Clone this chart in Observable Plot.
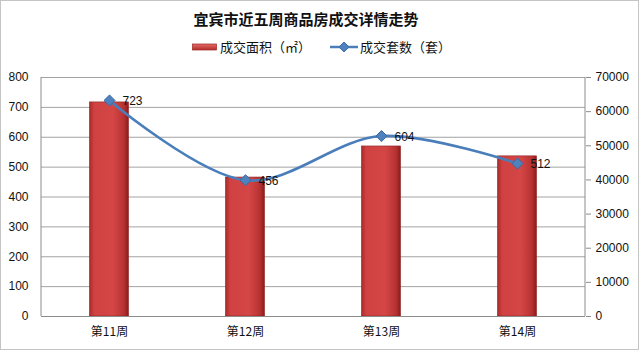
<!DOCTYPE html>
<html><head><meta charset="utf-8">
<script src="https://cdn.jsdelivr.net/npm/d3@7"></script>
<script src="https://cdn.jsdelivr.net/npm/@observablehq/plot@0.6"></script>
<style>
body{margin:0;background:#fff;}
#wrap{position:relative;width:640px;height:351px;overflow:hidden;background:#fff;font-family:"Liberation Sans","Noto Sans CJK SC",sans-serif;}
#border{position:absolute;left:0;top:0;width:637px;height:348px;border:1px solid #c4c4c4;pointer-events:none;}
#title{position:absolute;top:9px;left:0;width:612px;text-align:center;font:bold 15px/20px "Noto Sans CJK SC",sans-serif;color:#111;}
#legend{position:absolute;top:39px;left:0;width:640px;height:16px;font:13px/16px "Noto Sans CJK SC",sans-serif;color:#111;}
.li{position:absolute;top:0;display:flex;align-items:center;height:16px;}
#chart{position:absolute;top:62px;left:0;}
</style></head>
<body><div id="wrap"><div id="title"></div><div id="legend"></div><div id="chart"></div><div id="border"></div></div>
<script>
const titleText = "宜宾市近五周商品房成交详情走势";
const seriesNames = ["成交面积（㎡）", "成交套数（套）"];
const weeks = ["第11周", "第12周", "第13周", "第14周"];
const area = [62700, 40700, 49800, 46900];   // 成交面积 (right axis)
const units = [723, 456, 604, 512];          // 成交套数 (left axis)
const leftTicks = [0, 100, 200, 300, 400, 500, 600, 700, 800];
const rightTicks = [0, 10000, 20000, 30000, 40000, 50000, 60000, 70000];
const leftMax = 800, rightMax = 70000;
const k = leftMax / rightMax;

document.getElementById("title").textContent = titleText;
const legend = document.getElementById("legend");
legend.innerHTML =
  `<div class="li" style="left:192px"><svg width="26" height="10" style="margin-right:2px"><rect x="0.5" y="2" width="24" height="6" fill="url(#lg)" stroke="#9a2626" stroke-width="0.7"/><defs><linearGradient id="lg" x1="0" y1="0" x2="0" y2="1"><stop offset="0" stop-color="#e46a66"/><stop offset="1" stop-color="#b42e2c"/></linearGradient></defs></svg><span>${seriesNames[0]}</span></div>` +
  `<div class="li" style="left:330px"><svg width="29" height="12" style="margin-right:1px"><line x1="0" y1="6" x2="28" y2="6" stroke="#4a7ebb" stroke-width="2.5"/><path d="M14,1 L19,6 L14,11 L9,6Z" fill="#4f81bd" stroke="#3c6aa4"/></svg><span>${seriesNames[1]}</span></div>`;

const bars = weeks.map((w, i) => ({week: w, v: area[i] * k}));
const pts = weeks.map((w, i) => ({week: w, v: units[i]}));

const plot = Plot.plot({
  width: 640, height: 289,
  marginTop: 15, marginBottom: 35, marginLeft: 41, marginRight: 55,
  x: {domain: weeks, padding: 0, axis: null, label: null},
  y: {domain: [0, leftMax], axis: null, label: null},
  style: {fontFamily: '"Liberation Sans","Noto Sans CJK SC",sans-serif', fontSize: "12px", color: "#111", background: "transparent"},
  marks: [
    Plot.ruleY(leftTicks.filter(d => d > 0), {stroke: "#a3a3a3", strokeWidth: 1}),
    Plot.barY(bars, {x: "week", y: "v", fill: "url(#barGrad)", stroke: "#8f2222", strokeWidth: 0.6, insetLeft: 48.5, insetRight: 48.5}),
    Plot.ruleY([0], {stroke: "#8c8c8c", strokeWidth: 1}),
    Plot.axisY(leftTicks, {anchor: "left", tickSize: 0, tickPadding: 13, fontSize: 12, label: null}),
    Plot.axisY(rightTicks.map(d => d * k), {anchor: "right", tickSize: 5, tickPadding: 5, stroke: "#8c8c8c", tickFormat: d => String(Math.round(d / k)), fontSize: 12, label: null}),
    Plot.axisX(weeks, {tickSize: 0, tickPadding: 11, fontSize: 12, fontFamily: '"Noto Sans CJK SC",sans-serif', label: null}),
    Plot.line(pts, {x: "week", y: "v", stroke: "#4a7ebb", strokeWidth: 2.6, curve: "catmull-rom"}),
    Plot.dot(pts, {x: "week", y: "v", symbol: "diamond2", r: 5, fill: "#4f81bd", stroke: "#3a68a2", strokeWidth: 1}),
    Plot.text(pts, {x: "week", y: "v", text: d => String(d.v), dx: 13, dy: 1, textAnchor: "start", fill: "#111", fontSize: 12})
  ]
});

const svg = d3.select(plot);
const defs = svg.insert("defs", ":first-child");
const g = defs.append("linearGradient").attr("id", "barGrad").attr("x1", 0).attr("y1", 0).attr("x2", 1).attr("y2", 0);
[[0, "#a82a2a"], [0.12, "#d04242"], [0.6, "#d44646"], [0.88, "#b83232"], [1, "#8a1c1c"]]
  .forEach(([o, c]) => g.append("stop").attr("offset", o).attr("stop-color", c));

const xr = plot.scale("x").range, yr = plot.scale("y").range;
[xr[0], xr[1]].forEach(xv => {
  svg.append("line").attr("x1", xv).attr("x2", xv).attr("y1", yr[0]).attr("y2", yr[1])
    .attr("stroke", "#8c8c8c").attr("stroke-width", 1);
});
document.getElementById("chart").appendChild(plot);
</script></body></html>
